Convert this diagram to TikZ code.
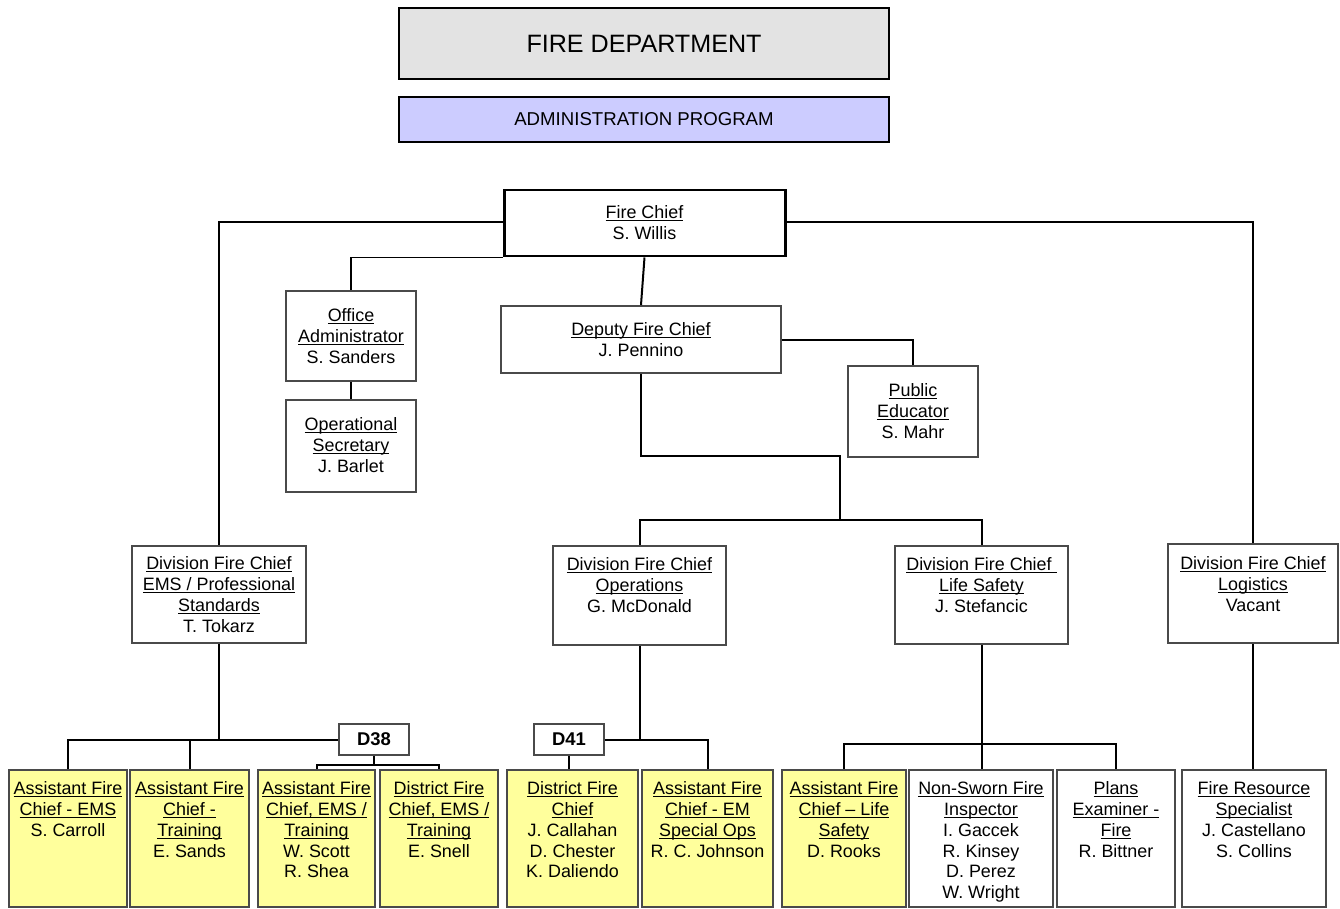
\documentclass[tikz,border=0pt]{standalone}
\usepackage{fontspec}
\setmainfont{Liberation Sans}
\usetikzlibrary{fit}
\definecolor{yellowbox}{HTML}{FFFF9C}
\definecolor{headgray}{HTML}{E3E3E3}
\definecolor{admin}{HTML}{CCCCFF}
\definecolor{boxline}{HTML}{4A4A4A}
\newcommand{\ul}[1]{\leavevmode\setbox0=\hbox{#1}\rlap{\rule[-1.3pt]{\wd0}{0.45pt}}\box0}
\begin{document}
\begin{tikzpicture}[x=0.02cm,y=-0.02cm,
  box/.style={draw=boxline, line width=0.04cm, inner sep=0pt},
  ybox/.style={box, fill=yellowbox},
  headbox/.style={draw=black, line width=0.04cm, inner sep=0pt},
  txt/.style={anchor=north, align=center, inner sep=0pt, font=\fontsize{10.2}{11.9}\selectfont},
  dbox/.style={box},
  dtxt/.style={inner sep=0pt, font=\bfseries\fontsize{10.5}{12}\selectfont},
  conn/.style={draw=black, line width=0.04cm}]
\useasboundingbox (0,0) rectangle (1340,909);

% header
\node[headbox, fill=headgray, fit={(399,8) (889,79)}] (fd) {};
\node[inner sep=0pt, font=\fontsize{14.3}{16}\selectfont] (fdt) at (fd.center) {FIRE DEPARTMENT};
\node[headbox, fill=admin, fit={(399,97) (889,142)}] (ap) {};
\node[inner sep=0pt, font=\fontsize{10.6}{12}\selectfont] (apt) at (ap.center) {ADMINISTRATION PROGRAM};

% upper boxes
\node[box, draw=black, line width=0.06cm, fit={(504,190) (785,256)}] (fc) {};
\node[txt] (fct) at (644.5,205) {\ul{Fire Chief}\\S. Willis};
\node[box, fit={(286,291) (416,381)}] (oa) {};
\node[txt] (oat) at (351,308) {\ul{Office}\\\ul{Administrator}\\S. Sanders};
\node[box, fit={(286,400) (416,492)}] (os) {};
\node[txt] (ost) at (351,417) {\ul{Operational}\\\ul{Secretary}\\J. Barlet};
\node[box, fit={(501,306) (781,373)}] (dep) {};
\node[txt] (dept) at (641,322) {\ul{Deputy Fire Chief}\\J. Pennino};
\node[box, fit={(848,366) (978,457)}] (pe) {};
\node[txt] (pet) at (913,383) {\ul{Public}\\\ul{Educator}\\S. Mahr};

% division boxes
\node[box, fit={(132,546) (306,643)}] (ems) {};
\node[txt] (emst) at (219,556) {\ul{Division Fire Chief}\\\ul{EMS / Professional}\\\ul{Standards}\\T. Tokarz};
\node[box, fit={(553,546) (726,645)}] (ops) {};
\node[txt] (opst) at (639.5,557) {\ul{Division Fire Chief}\\\ul{Operations}\\G. McDonald};
\node[box, fit={(895,546) (1068,644)}] (ls) {};
\node[txt] (lst) at (981.5,557) {\ul{Division Fire Chief\ }\\\ul{Life Safety}\\J. Stefancic};
\node[box, fit={(1168,544) (1338,643)}] (log) {};
\node[txt] (logt) at (1253,556) {\ul{Division Fire Chief}\\\ul{Logistics}\\Vacant};

% district boxes
\node[dbox, fit={(339,724) (409,755)}] (d38) {};
\node[dtxt] (d38t) at (d38.center) {D38};
\node[dbox, fit={(534,724) (604,755)}] (d41) {};
\node[dtxt] (d41t) at (d41.center) {D41};

% bottom row
\node[ybox, fit={(9,770) (127,907)}] (b1) {};
\node[txt] (b1t) at (68,781) {\ul{Assistant Fire}\\\ul{Chief - EMS}\\S. Carroll};
\node[ybox, fit={(130,770) (249,907)}] (b2) {};
\node[txt] (b2t) at (189.5,781) {\ul{Assistant Fire}\\\ul{Chief -}\\\ul{Training}\\E. Sands};
\node[ybox, fit={(258,770) (375,907)}] (b3) {};
\node[txt] (b3t) at (316.5,781) {\ul{Assistant Fire}\\\ul{Chief, EMS /}\\\ul{Training}\\W. Scott\\R. Shea};
\node[ybox, fit={(380,770) (498,907)}] (b4) {};
\node[txt] (b4t) at (439,781) {\ul{District Fire}\\\ul{Chief, EMS /}\\\ul{Training}\\E. Snell};
\node[ybox, fit={(507,770) (638,907)}] (b5) {};
\node[txt] (b5t) at (572.5,781) {\ul{District Fire}\\\ul{Chief}\\J. Callahan\\D. Chester\\K. Daliendo};
\node[ybox, fit={(642,770) (773,907)}] (b6) {};
\node[txt] (b6t) at (707.5,781) {\ul{Assistant Fire}\\\ul{Chief - EM}\\\ul{Special Ops}\\R. C. Johnson};
\node[ybox, fit={(782,770) (906,907)}] (b7) {};
\node[txt] (b7t) at (844,781) {\ul{Assistant Fire}\\\ul{Chief – Life}\\\ul{Safety}\\D. Rooks};
\node[box, fit={(909,770) (1053,907)}] (b8) {};
\node[txt] (b8t) at (981,781) {\ul{Non-Sworn Fire}\\\ul{Inspector}\\I. Gaccek\\R. Kinsey\\D. Perez\\W. Wright};
\node[box, fit={(1057,770) (1175,907)}] (b9) {};
\node[txt] (b9t) at (1116,781) {\ul{Plans}\\\ul{Examiner -}\\\ul{Fire}\\R. Bittner};
\node[box, fit={(1182,770) (1326,907)}] (b10) {};
\node[txt] (b10t) at (1254,781) {\ul{Fire Resource}\\\ul{Specialist}\\J. Castellano\\S. Collins};

% junction coordinates
\coordinate (fcl) at (504,222);
\coordinate (fcr) at (785,222);
\coordinate (j1) at (840,456);
\coordinate (j2) at (840,521);

% connectors
\draw[conn] (fcl) -| (ems.north);
\draw[conn] (fcr) -| (log.north);
\draw[conn] (fc.south west) -| (oa.north);
\draw[conn] (oa.south) -- (os.north);
\draw[conn] (fc.south) -- (dep.north);
\draw[conn] (dep.east) -| (pe.north);
\draw[conn] (dep.south) |- (j1) -- (j2);
\draw[conn] (ops.north) -- ++(0,-25) -| (ls.north);

\draw[conn] (ems.south) -- ++(0,96) coordinate (emsbus);
\draw[conn] (b1.north) |- (d38.west);
\draw[conn] (b2.north) -- (b2.north |- emsbus);
\draw[conn] (d38.south) -- ++(0,9) coordinate (d38bus);
\draw[conn] (b3.north) |- (d38bus) -| (b4.north);

\draw[conn] (ops.south) -- (ops.south |- d41.east);
\draw[conn] (d41.east) -| (b6.north);
\draw[conn] (d41.south) -- (d41.south |- b5.north);

\draw[conn] (ls.south) -- (ls.south |- b8.north);
\draw[conn] (b7.north) -- ++(0,-25) -| (b9.north);

\draw[conn] (log.south) -- (log.south |- b10.north);
\end{tikzpicture}
\end{document}
